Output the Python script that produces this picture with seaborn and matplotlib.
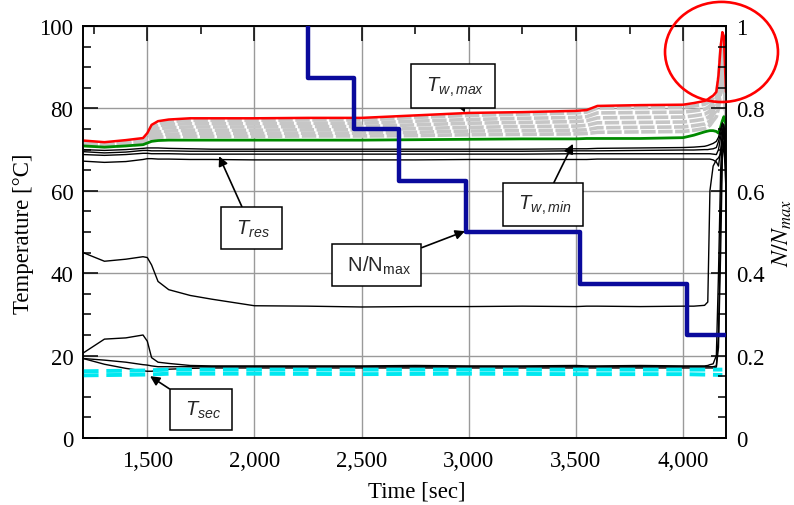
import matplotlib
matplotlib.use("Agg")
import matplotlib.pyplot as plt
import seaborn as sns
from matplotlib.patches import Ellipse
from matplotlib.ticker import MultipleLocator, FixedLocator, FixedFormatter

# ---------------- data ----------------
time = [1200, 1300, 1400, 1480, 1500, 1520, 1550, 1600, 1700, 1800, 2000, 2250,
        2500, 2750, 3000, 3250, 3500, 3550, 3600, 3800, 4000, 4050, 4100, 4115,
        4125, 4140, 4155, 4165, 4175, 4183, 4190, 4200]

t_wmax = [72.2, 71.8, 72.3, 72.8, 74.0, 76.0, 76.9, 77.3, 77.6, 77.6, 77.6, 77.7,
          77.7, 78.3, 78.9, 79.1, 79.4, 79.6, 80.6, 80.8, 80.9, 81.3, 81.8, 82.2,
          82.6, 83.1, 84.0, 88.0, 95.0, 98.5, 97.5, 84.0]
t_g1 = [71.9, 71.5, 71.9, 72.4, 73.5, 75.5, 76.4, 76.8, 77.1, 77.1, 77.1, 77.2,
        77.2, 77.8, 78.3, 78.6, 78.9, 79.1, 80.1, 80.2, 80.3, 80.6, 81.0, 81.4,
        81.8, 82.5, 83.5, 87.0, 94.0, 97.0, 96.0, 83.0]
t_g2 = [71.7, 71.3, 71.7, 72.2, 73.1, 75.0, 75.8, 76.1, 76.3, 76.3, 76.3, 76.4,
        76.4, 76.9, 77.3, 77.6, 77.8, 78.0, 78.9, 79.0, 79.1, 79.4, 79.8, 80.2,
        80.6, 81.5, 82.5, 85.0, 92.0, 95.0, 94.0, 82.0]
t_g3 = [71.5, 71.1, 71.5, 71.9, 72.7, 74.3, 75.1, 75.3, 75.5, 75.5, 75.5, 75.6,
        75.6, 76.0, 76.4, 76.6, 76.8, 77.0, 77.7, 77.8, 77.9, 78.2, 78.6, 79.0,
        79.4, 80.5, 81.5, 83.0, 90.0, 93.0, 92.0, 80.0]
t_g4 = [71.3, 71.0, 71.3, 71.7, 72.3, 73.6, 74.3, 74.5, 74.7, 74.7, 74.7, 74.8,
        74.8, 75.1, 75.4, 75.6, 75.7, 75.9, 76.5, 76.6, 76.7, 77.0, 77.4, 77.8,
        78.2, 79.5, 80.5, 82.0, 88.0, 91.0, 90.0, 79.0]
t_g5 = [71.1, 70.8, 71.1, 71.5, 72.0, 73.0, 73.6, 73.7, 73.9, 73.9, 73.9, 74.0,
        74.0, 74.2, 74.5, 74.6, 74.7, 74.8, 75.3, 75.4, 75.5, 75.8, 76.2, 76.6,
        77.0, 78.5, 79.5, 81.0, 86.0, 89.0, 88.0, 78.0]
t_g6 = [71.0, 70.7, 71.0, 71.3, 71.8, 72.5, 73.0, 73.1, 73.2, 73.2, 73.2, 73.3,
        73.3, 73.4, 73.6, 73.7, 73.8, 73.9, 74.2, 74.3, 74.4, 74.7, 75.1, 75.5,
        75.9, 77.0, 78.0, 80.0, 84.0, 87.0, 86.0, 77.0]
t_wmin = [70.9, 70.6, 70.9, 71.2, 71.6, 72.0, 72.2, 72.3, 72.3, 72.3, 72.3, 72.3,
          72.3, 72.4, 72.5, 72.6, 72.6, 72.7, 72.7, 72.7, 72.9, 73.5, 74.3, 74.5,
          74.6, 74.6, 74.4, 74.0, 75.5, 77.0, 78.0, 76.0]

t_res1 = [70.0, 69.8, 70.0, 70.3, 70.4, 70.4, 70.4, 70.3, 70.2, 70.1, 70.1, 70.1,
          70.1, 70.1, 70.1, 70.1, 70.2, 70.2, 70.3, 70.4, 70.5, 70.6, 70.8, 71.0,
          71.2, 71.5, 72.0, 73.0, 75.0, 76.5, 76.0, 72.0]
t_res2 = [69.5, 69.2, 69.4, 69.8, 69.8, 69.7, 69.7, 69.7, 69.6, 69.6, 69.6, 69.6,
          69.6, 69.6, 69.6, 69.6, 69.7, 69.7, 69.7, 69.8, 69.9, 69.9, 70.0, 70.0,
          70.1, 70.2, 70.5, 72.0, 74.0, 76.0, 75.0, 70.0]
t_res3 = [68.8, 68.6, 68.8, 69.1, 69.1, 69.0, 69.0, 69.0, 68.9, 68.9, 68.9, 68.9,
          68.9, 68.9, 68.9, 68.9, 69.0, 69.0, 69.0, 69.0, 69.0, 69.0, 69.0, 69.0,
          69.0, 68.9, 68.8, 70.0, 73.0, 75.0, 74.0, 68.0]
t_res4 = [67.2, 66.9, 67.1, 67.6, 67.8, 67.8, 67.7, 67.7, 67.6, 67.6, 67.5, 67.5,
          67.5, 67.5, 67.6, 67.6, 67.6, 67.6, 67.7, 67.7, 67.7, 67.7, 67.7, 67.7,
          67.7, 67.5, 67.0, 66.0, 70.0, 74.0, 73.0, 66.0]

t_mid = [45.0, 42.9, 43.4, 44.0, 43.8, 42.0, 38.0, 36.0, 34.6, 33.7, 32.1, 32.0,
         31.8, 31.9, 31.9, 32.0, 31.9, 32.0, 32.0, 31.9, 32.0, 32.0, 32.2, 33.0,
         60.0, 66.0, 67.5, 68.0, 69.0, 70.0, 70.0, 68.0]
t_low1 = [20.6, 24.0, 24.3, 25.0, 23.5, 19.5, 18.4, 18.1, 17.6, 17.5, 17.5, 17.5,
          17.5, 17.6, 17.5, 17.5, 17.6, 17.5, 17.5, 17.6, 17.5, 17.5, 17.5, 17.6,
          17.8, 18.0, 20.0, 40.0, 65.0, 74.0, 76.0, 70.0]
t_low2 = [19.3, 18.9, 18.4, 17.8, 17.7, 17.5, 17.3, 17.3, 17.3, 17.3, 17.3, 17.3,
          17.3, 17.3, 17.3, 17.3, 17.3, 17.3, 17.3, 17.3, 17.3, 17.3, 17.3, 17.3,
          17.3, 17.3, 17.5, 25.0, 55.0, 72.0, 74.0, 65.0]
t_low3 = [19.3, 17.9, 16.9, 16.3, 16.2, 16.2, 16.4, 16.7, 16.9, 17.0, 17.0, 17.0,
          17.0, 17.0, 17.0, 17.0, 17.0, 17.0, 17.0, 17.0, 17.0, 17.0, 17.0, 17.0,
          17.0, 17.0, 17.2, 22.0, 45.0, 68.0, 72.0, 60.0]

time_sec = [1200, 1500, 1600, 2000, 2500, 3000, 3500, 4000, 4183]
t_sec1 = [16.2, 16.4, 16.6, 16.6, 16.6, 16.6, 16.6, 16.6, 16.6]
t_sec2 = [15.2, 15.4, 15.6, 15.6, 15.5, 15.6, 15.5, 15.5, 15.3]

step_time = [2250, 2465, 2675, 2985, 3520, 4020, 4200]
n_ratio = [1.0, 0.875, 0.75, 0.625, 0.5, 0.375, 0.25]

xticks = [1500, 2000, 2500, 3000, 3500, 4000]
xtick_labels = ["1,500", "2,000", "2,500", "3,000", "3,500", "4,000"]
yticks = [0, 20, 40, 60, 80, 100]
ytick_labels = ["0", "20", "40", "60", "80", "100"]
y2ticks = [0, 0.2, 0.4, 0.6, 0.8, 1.0]
y2tick_labels = ["0", "0.2", "0.4", "0.6", "0.8", "1"]

# ---------------- style ----------------
sns.set_theme(style="white")
plt.rcParams["font.family"] = ["Liberation Serif", "DejaVu Serif"]
plt.rcParams["mathtext.fontset"] = "custom"
plt.rcParams["mathtext.rm"] = "Liberation Sans"
plt.rcParams["mathtext.it"] = "Liberation Sans:italic"
plt.rcParams["mathtext.bf"] = "Liberation Sans:bold"

W, H = 794, 506
fig = plt.figure(figsize=(W / 100, H / 100), dpi=100)
ax = fig.add_axes([83 / W, 1 - 439 / H, 643 / W, 412 / H])

gray = "#c6c6c6"
for g in [t_g6, t_g5, t_g4, t_g3, t_g2, t_g1]:
    sns.lineplot(x=time, y=g, ax=ax, color=gray, lw=2.6, estimator=None,
                 linestyle=(0, (4, 0.7)), zorder=3)
sns.lineplot(x=time, y=t_wmin, ax=ax, color="#008a00", lw=2.0, estimator=None, zorder=4)
sns.lineplot(x=time, y=t_wmax, ax=ax, color="#ff0000", lw=1.8, estimator=None, zorder=4)
for b in [t_res1, t_res2, t_res3, t_res4, t_mid, t_low1, t_low2, t_low3]:
    sns.lineplot(x=time, y=b, ax=ax, color="black", lw=1.0, estimator=None, zorder=5)
for c in [t_sec1, t_sec2]:
    sns.lineplot(x=time_sec, y=c, ax=ax, color="#00e8f0", lw=2.8, estimator=None,
                 linestyle=(0, (4, 2)), zorder=5)

ax.set_xlim(1200, 4200)
ax.set_ylim(0, 100)
ax.xaxis.set_major_locator(FixedLocator(xticks))
ax.xaxis.set_major_formatter(FixedFormatter(xtick_labels))
ax.xaxis.set_minor_locator(MultipleLocator(250))
ax.yaxis.set_major_locator(FixedLocator(yticks))
ax.yaxis.set_major_formatter(FixedFormatter(ytick_labels))
ax.yaxis.set_minor_locator(MultipleLocator(5))
ax.grid(True, which="major", color="#9a9a9a", lw=1.0)
ax.set_axisbelow(True)
ax.set_xlabel("")
ax.set_ylabel("")
ax.tick_params(axis="both", which="both", direction="in", top=True, right=False,
               width=1.1, color="black", labelsize=16.5, labelcolor="black")
ax.tick_params(axis="both", which="major", length=11)
ax.tick_params(axis="both", which="minor", length=6)
ax.tick_params(axis="x", pad=9)
ax.tick_params(axis="y", pad=7)
for s in ax.spines.values():
    s.set_color("black")
    s.set_linewidth(1.2)

ax2 = ax.twinx()
sns.lineplot(x=step_time, y=n_ratio, ax=ax2, color="#0a0a9c", lw=3.2,
             drawstyle="steps-pre", estimator=None, zorder=6)
ax2.set_ylim(0, 1)
ax2.set_ylabel("")
ax2.yaxis.set_major_locator(FixedLocator(y2ticks))
ax2.yaxis.set_major_formatter(FixedFormatter(y2tick_labels))
ax2.yaxis.set_minor_locator(MultipleLocator(0.05))
ax2.tick_params(axis="y", which="both", direction="in", left=False, right=True,
                width=1.1, color="black", labelsize=16.5, labelcolor="black", pad=7)
ax2.tick_params(axis="y", which="major", length=11)
ax2.tick_params(axis="y", which="minor", length=6)
for s in ax2.spines.values():
    s.set_color("black")
    s.set_linewidth(1.2)

# annotations
box = dict(boxstyle="square,pad=0.5", fc="white", ec="black", lw=1.1)
arr = dict(arrowstyle="-|>", color="black", lw=1.2, mutation_scale=14,
           shrinkA=0, shrinkB=0)
notes = [
    (r" $T_{w,max}$ ", (2982, 79.0), (2926, 85.4)),
    (r" $T_{res}$ ", (1835, 68.4), (1986, 51.0)),
    (r" $T_{w,min}$ ", (3486, 71.4), (3346, 56.6)),
    (r" N/N$_{\mathrm{max}}$ ", (2982, 50.2), (2569, 42.0)),
    (r" $T_{sec}$ ", (1513, 15.0), (1751, 6.9)),
]
for txt, xy, xyt in notes:
    ax2.annotate(txt, xy=xy, xycoords=ax.transData, xytext=xyt,
                 textcoords=ax.transData, ha="center", va="center",
                 fontsize=14.5, family="Liberation Sans", bbox=box,
                 arrowprops=arr, zorder=10)

# red highlight circle
ell = Ellipse((4179, 93.7), width=527, height=24.3, transform=ax.transData,
              fill=False, ec="#ff0000", lw=1.9, clip_on=False, zorder=11)
ax2.add_patch(ell)

fig.text(24 / W, 1 - 234 / H, "Temperature [°C]", rotation=90, ha="center",
         va="center", fontsize=16.5, color="black")
fig.text(417 / W, 1 - 492 / H, "Time [sec]", ha="center", va="center",
         fontsize=16.5, color="black")
fig.text(782 / W, 1 - 233 / H, r"$N/N_{max}$", rotation=90, ha="center",
         va="center", fontsize=17, color="black", math_fontfamily="stix")

fig.savefig("out.png", dpi=100)
